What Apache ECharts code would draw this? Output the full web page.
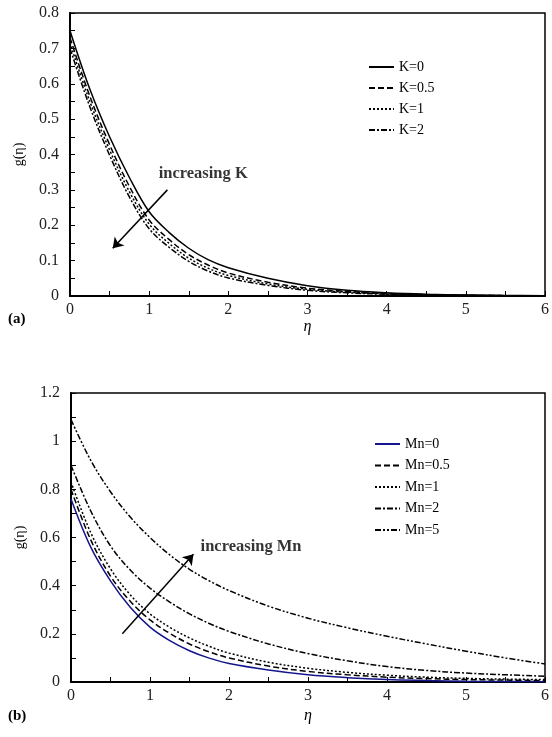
<!DOCTYPE html>
<html>
<head>
<meta charset="utf-8">
<script src="https://cdn.jsdelivr.net/npm/echarts@6/dist/echarts.min.js"></script>
<style>
  html, body { margin: 0; padding: 0; background: #fff; }
  #main { width: 552px; height: 737px; }
</style>
</head>
<body>
<div id="main"></div>
<script>
// eta grid shared by both panels
var eta = [0, 0.25, 0.5, 0.75, 1, 1.25, 1.5, 1.75, 2, 2.5, 3, 3.5, 4, 4.5, 5, 5.5, 6];

// panel (a): g(eta) for K
var kNames = ['K=0', 'K=0.5', 'K=1', 'K=2'];
var gK0  = [0.75, 0.585, 0.45, 0.335, 0.238, 0.18, 0.135, 0.102, 0.08, 0.05, 0.029, 0.016, 0.009, 0.005, 0.003, 0.0015, 0.001];
var gK05 = [0.73, 0.565, 0.428, 0.31, 0.215, 0.16, 0.117, 0.087, 0.065, 0.039, 0.022, 0.013, 0.007, 0.004, 0.002, 0.001, 0.0005];
var gK1  = [0.715, 0.55, 0.413, 0.295, 0.203, 0.149, 0.107, 0.078, 0.058, 0.034, 0.019, 0.011, 0.006, 0.0035, 0.002, 0.001, 0.0005];
var gK2  = [0.70, 0.535, 0.398, 0.28, 0.19, 0.138, 0.098, 0.07, 0.051, 0.03, 0.016, 0.009, 0.005, 0.003, 0.0015, 0.001, 0.0005];

// panel (b): g(eta) for Mn
var mnNames = ['Mn=0', 'Mn=0.5', 'Mn=1', 'Mn=2', 'Mn=5'];
var gMn0  = [0.76, 0.56, 0.42, 0.31, 0.228, 0.172, 0.13, 0.099, 0.077, 0.05, 0.03, 0.018, 0.01, 0.006, 0.003, 0.002, 0.001];
var gMn05 = [0.80, 0.59, 0.44, 0.335, 0.258, 0.202, 0.158, 0.125, 0.1, 0.066, 0.044, 0.03, 0.02, 0.014, 0.01, 0.008, 0.006];
var gMn1  = [0.83, 0.62, 0.47, 0.362, 0.283, 0.227, 0.183, 0.148, 0.12, 0.082, 0.057, 0.04, 0.028, 0.02, 0.015, 0.012, 0.01];
var gMn2  = [0.90, 0.71, 0.565, 0.465, 0.39, 0.332, 0.283, 0.243, 0.21, 0.158, 0.118, 0.088, 0.064, 0.048, 0.037, 0.03, 0.024];
var gMn5  = [1.09, 0.92, 0.79, 0.685, 0.6, 0.528, 0.468, 0.42, 0.38, 0.315, 0.265, 0.225, 0.19, 0.158, 0.128, 0.1, 0.075];

// annotation arrows [from, to] in data units
var arrowK  = [[1.23, 0.30], [0.54, 0.135]];
var arrowMn = [[0.65, 0.20], [1.55, 0.53]];
var textK  = [1.12, 0.345];
var textMn = [1.64, 0.56];

var dashes = ['solid', [6, 3], [2, 2], [6, 2, 2, 2], [6, 2, 2, 2, 2, 2]];
var font = 'Liberation Serif';

function pairs(ys) {
    var out = [];
    for (var i = 0; i < eta.length; i++) out.push([eta[i], ys[i]]);
    return out;
}

function curve(name, ys, idx, gi, color) {
    return {
        name: name,
        type: 'line',
        xAxisIndex: gi,
        yAxisIndex: gi,
        data: pairs(ys),
        symbol: 'none',
        smooth: 0.35,
        lineStyle: { color: color || '#000', width: 1.5, type: dashes[idx] },
        itemStyle: { color: color || '#000' },
        z: 3
    };
}

function note(gi, pos, txt, arrow) {
    return {
        type: 'scatter',
        xAxisIndex: gi,
        yAxisIndex: gi,
        symbolSize: 0,
        silent: true,
        data: [pos],
        label: {
            show: true, position: 'right', distance: 0,
            formatter: txt, color: '#000', fontFamily: font,
            fontWeight: 'bold', fontSize: 16.5
        },
        markLine: {
            silent: true,
            symbol: ['none', 'arrow'],
            symbolSize: 10,
            label: { show: false },
            lineStyle: { color: '#000', width: 1.5, type: 'solid' },
            data: [[{ coord: arrow[0] }, { coord: arrow[1] }]]
        }
    };
}

function xAx(gi, gap) {
    return {
        type: 'value', gridIndex: gi, min: 0, max: 6, interval: 1,
        name: 'η', nameLocation: 'middle', nameGap: gap,
        nameTextStyle: { fontFamily: font, fontStyle: 'italic', fontSize: 16, color: '#000' },
        axisLine: { onZero: false, lineStyle: { color: '#000', width: 2 } },
        axisTick: { inside: true, length: 5, lineStyle: { color: '#000' } },
        minorTick: { show: true, splitNumber: 2, length: 5, lineStyle: { color: '#000' } },
        axisLabel: { fontFamily: font, fontSize: 16, color: '#222', margin: 6 },
        splitLine: { show: false }
    };
}

function yAx(gi, max, step) {
    return {
        type: 'value', gridIndex: gi, min: 0, max: max, interval: step,
        name: 'g(η)', nameLocation: 'middle', nameGap: 44, nameRotate: 90,
        nameTextStyle: { fontFamily: font, fontSize: 14, color: '#000' },
        axisLine: { onZero: false, lineStyle: { color: '#000', width: 2 } },
        axisTick: { inside: true, length: 5, lineStyle: { color: '#000' } },
        minorTick: { show: true, splitNumber: 2, length: 5, lineStyle: { color: '#000' } },
        axisLabel: { fontFamily: font, fontSize: 16, color: '#222', margin: 11 },
        splitLine: { show: false }
    };
}

function legendBox(names, left, top, gap) {
    return {
        data: names, orient: 'vertical', left: left, top: top,
        itemWidth: 25, itemHeight: 12, itemGap: gap,
        // hide the marker dot, keep only the dashed stroke
        itemStyle: { color: 'rgba(0,0,0,0)', borderWidth: 0, opacity: 0 },
        textStyle: { fontFamily: font, fontSize: 14, color: '#000' }
    };
}

var dom = document.getElementById('main');
var myChart = echarts.init(dom);
var option = {
    animation: false,
    backgroundColor: '#fff',
    grid: [
        { left: 70, right: 6, top: 13, bottom: 441, show: true, borderColor: '#000', borderWidth: 1.5 },
        { left: 71, right: 6, top: 393, bottom: 55, show: true, borderColor: '#000', borderWidth: 1.5 }
    ],
    xAxis: [xAx(0, 18), xAx(1, 26)],
    yAxis: [yAx(0, 0.8, 0.1), yAx(1, 1.2, 0.2)],
    legend: [legendBox(kNames, 363, 55, 7), legendBox(mnNames, 369, 432, 7.5)],
    graphic: [
        { type: 'text', left: 8, top: 312, style: { text: '(a)', font: 'bold 15px ' + font, fill: '#000' } },
        { type: 'text', left: 8, top: 709, style: { text: '(b)', font: 'bold 15px ' + font, fill: '#000' } }
    ],
    series: [
        curve(kNames[0], gK0, 0, 0),
        curve(kNames[1], gK05, 1, 0),
        curve(kNames[2], gK1, 2, 0),
        curve(kNames[3], gK2, 3, 0),
        note(0, textK, 'increasing K', arrowK),
        curve(mnNames[0], gMn0, 0, 1, '#14148c'),
        curve(mnNames[1], gMn05, 1, 1),
        curve(mnNames[2], gMn1, 2, 1),
        curve(mnNames[3], gMn2, 3, 1),
        curve(mnNames[4], gMn5, 4, 1),
        note(1, textMn, 'increasing Mn', arrowMn)
    ]
};
if (option && typeof option === "object") {
    myChart.setOption(option, true);
}
</script>
</body>
</html>
